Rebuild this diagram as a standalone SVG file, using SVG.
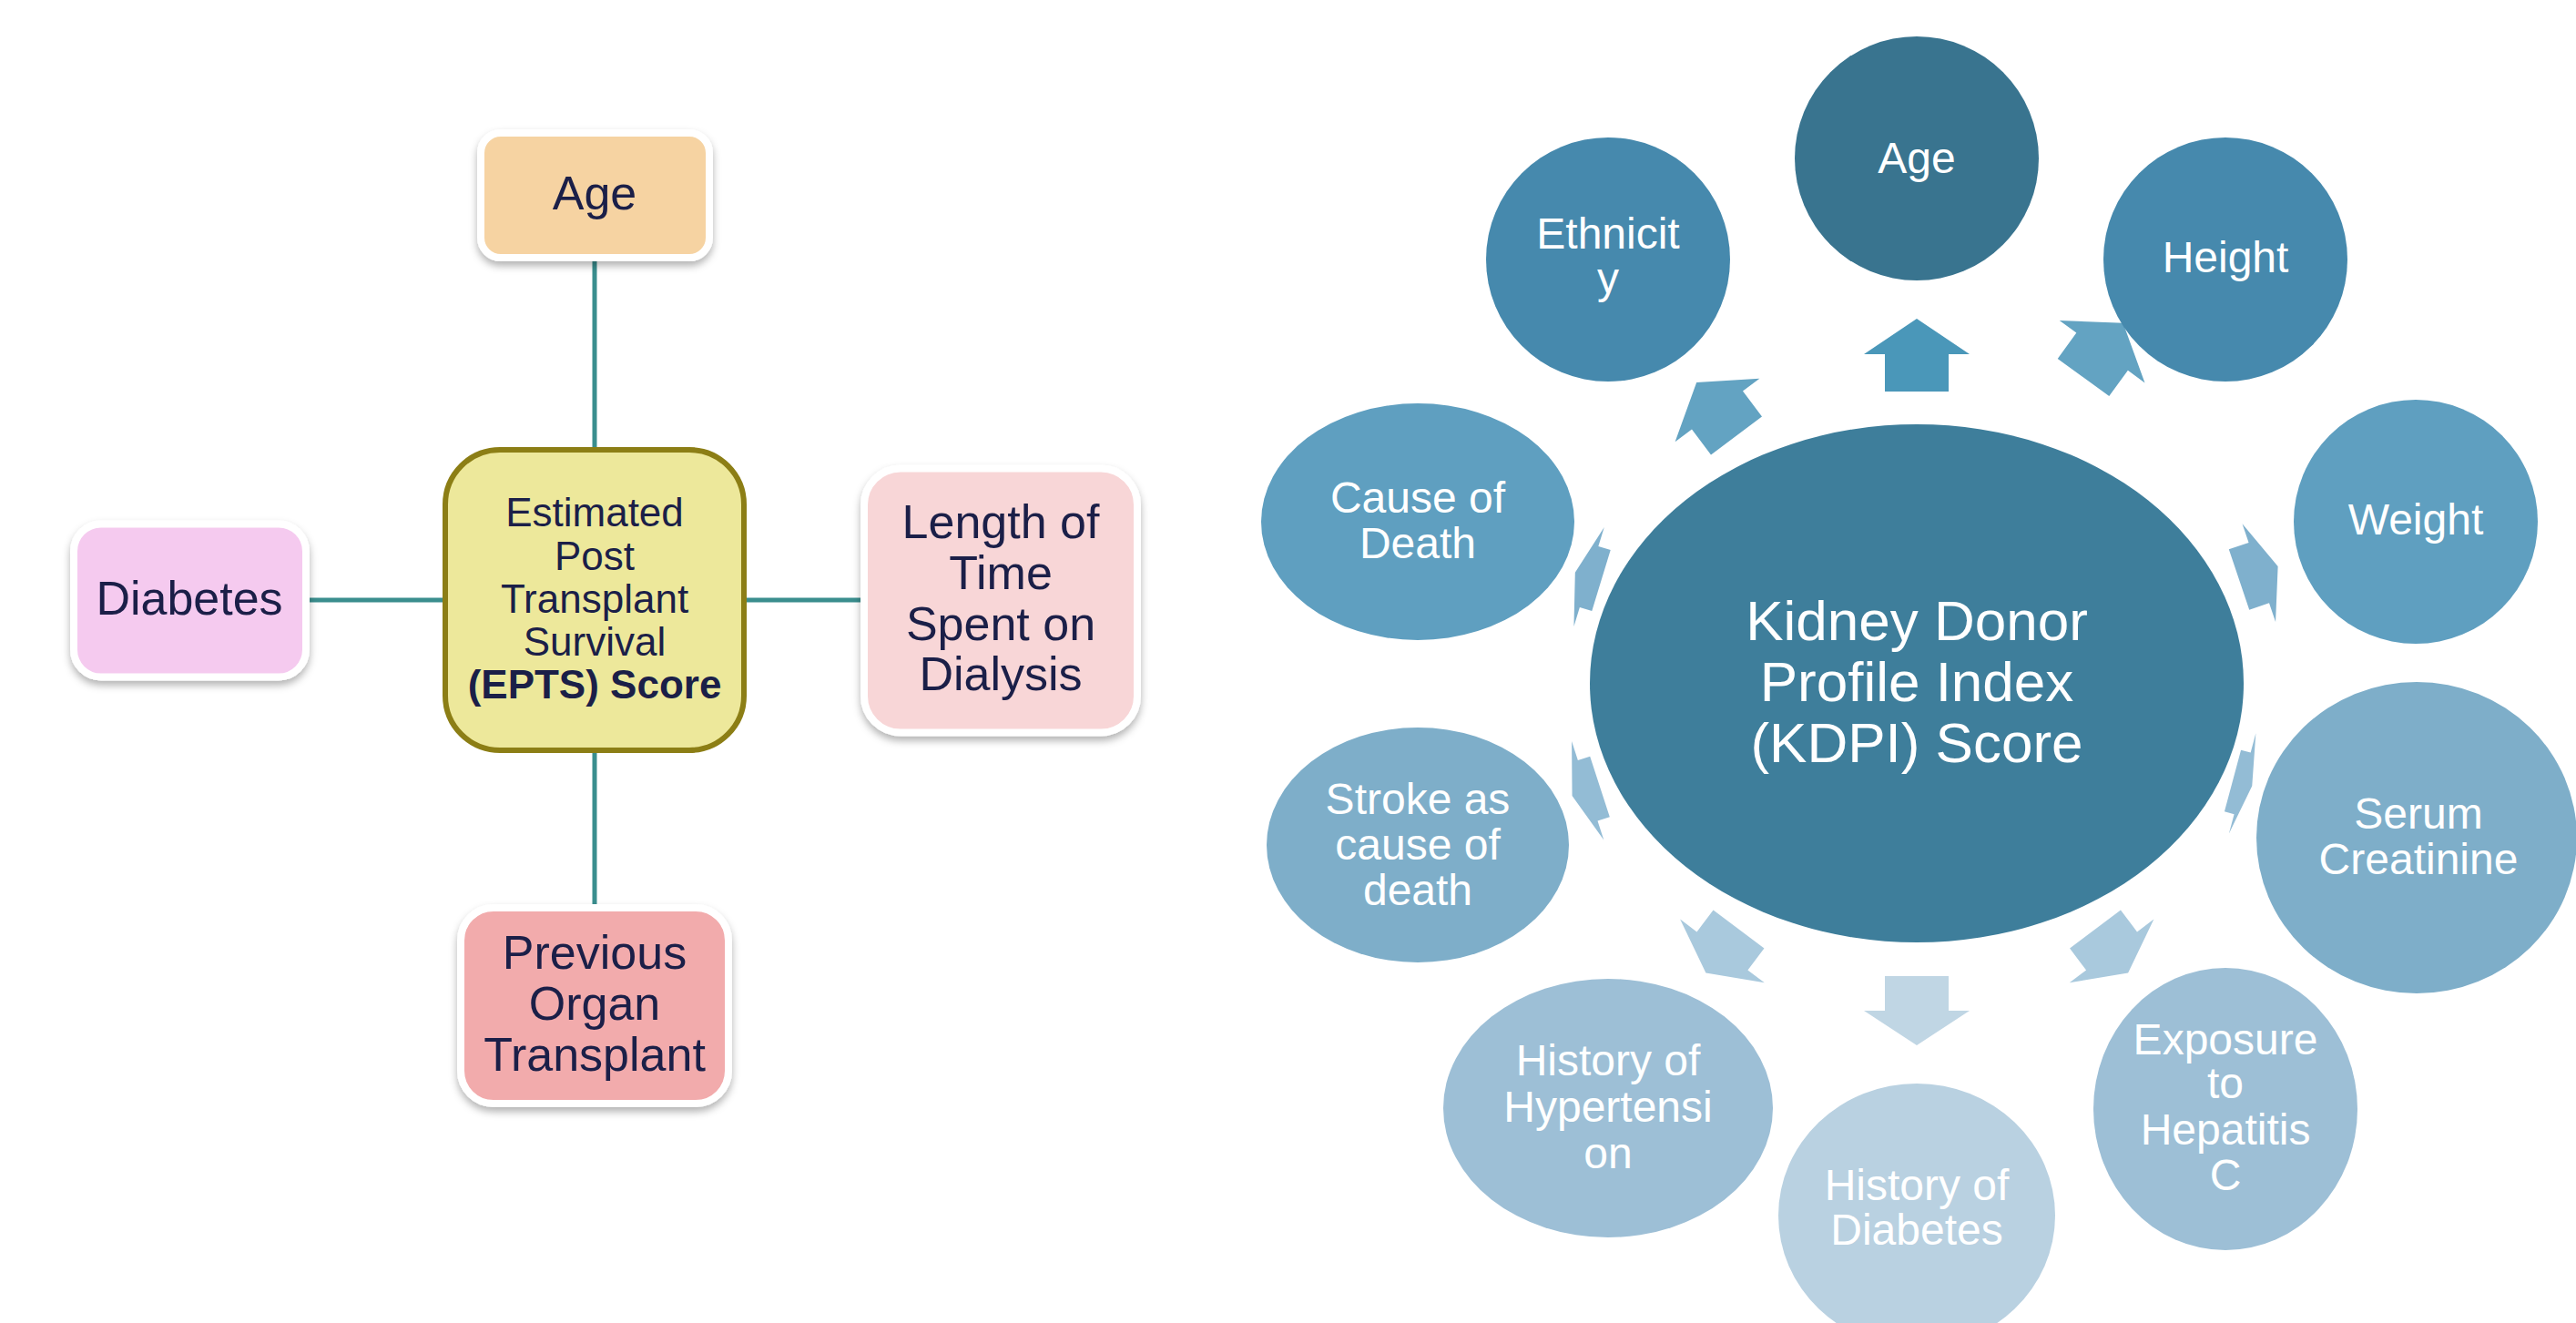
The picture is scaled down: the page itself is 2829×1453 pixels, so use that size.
<svg xmlns="http://www.w3.org/2000/svg" width="2829" height="1453" viewBox="0 0 2829 1453">
<defs>
<filter id="sh" x="-20%" y="-20%" width="140%" height="150%">
<feDropShadow dx="0" dy="5" stdDeviation="4" flood-color="#000" flood-opacity="0.3"/>
</filter>
<style>
.box{stroke:#fff;stroke-width:8;filter:url(#sh)}
.lt{font-family:"Liberation Sans",Arial,sans-serif;font-size:52px;fill:#1b1f48;text-anchor:middle}
.ct{font-family:"Liberation Sans",Arial,sans-serif;font-size:44px;fill:#1b1f48;text-anchor:middle}
.rt{font-family:"Liberation Sans",Arial,sans-serif;font-size:48px;fill:#fff;text-anchor:middle}
.kt{font-family:"Liberation Sans",Arial,sans-serif;font-size:62px;fill:#fff;text-anchor:middle}
.ln{stroke:#3a8e8e;stroke-width:5;fill:none}
</style>
</defs>
<rect width="2829" height="1453" fill="#fff"/>

<g id="connectors">
<line class="ln" x1="653" y1="287" x2="653" y2="492"/>
<line class="ln" x1="653" y1="826" x2="653" y2="994"/>
<line class="ln" x1="340" y1="659" x2="487" y2="659"/>
<line class="ln" x1="819" y1="659" x2="946" y2="659"/>
<polygon fill="#4a97b9" transform="translate(2105,430) rotate(-90)" points="0,-35 41,-35 41,-58 80,0 41,58 41,35 0,35"/>
<polygon fill="#c0d6e4" transform="translate(2105,1072) rotate(90)" points="0,-35 38,-35 38,-58 76,0 38,58 38,35 0,35"/>
<polygon fill="#63a3c2" transform="translate(2288,414.5) rotate(-53.9)" points="0,-35 35,-35 35,-58 74,0 35,58 35,35 0,35"/>
<polygon fill="#63a3c2" transform="translate(1907,478.5) rotate(-126.9)" points="0,-35 35,-35 35,-58 73,0 35,58 35,35 0,35"/>
<polygon fill="#7fb0cd" transform="translate(2459,636.5) rotate(-18.7)" points="0,-35 23,-35 23,-57 45,0 23,57 23,35 0,35"/>
<polygon fill="#7fb0cd" transform="translate(1758.5,637.5) rotate(-163)" points="0,-35 14,-35 14,-57 30,0 14,57 14,35 0,35"/>
<polygon fill="#93bcd5" transform="translate(2452,857.5) rotate(15)" points="0,-35 11,-35 11,-57 22,0 11,57 11,35 0,35"/>
<polygon fill="#93bcd5" transform="translate(1757,864) rotate(162)" points="0,-35 14,-35 14,-57 32,0 14,57 14,35 0,35"/>
<polygon fill="#a9c9dd" transform="translate(2301,1020.5) rotate(53)" points="0,-35 30,-35 30,-58 60,0 30,58 30,35 0,35"/>
<polygon fill="#a9c9dd" transform="translate(1909.5,1020.5) rotate(127)" points="0,-35 30,-35 30,-58 60,0 30,58 30,35 0,35"/>
</g>

<g id="epts">
<rect x="489" y="494" width="328" height="330" rx="60" fill="#ede89b" stroke="#8c7e15" stroke-width="6"/>
<text class="ct" x="653" y="578">Estimated</text>
<text class="ct" x="653" y="626">Post</text>
<text class="ct" x="653" y="673">Transplant</text>
<text class="ct" x="653" y="720">Survival</text>
<text class="ct" x="653" y="767" font-weight="bold" font-size="42">(EPTS) Score</text>
</g>
<g id="age-box">
<rect class="box" x="528" y="146" width="251" height="137" rx="22" fill="#f6d3a2"/>
<text class="lt" x="653" y="230">Age</text>
</g>
<g id="diabetes-box">
<rect class="box" x="81" y="575.5" width="255" height="168" rx="30" fill="#f5caef"/>
<text class="lt" x="208" y="675">Diabetes</text>
</g>
<g id="dialysis-box">
<rect class="box" x="949" y="514.5" width="300" height="290" rx="40" fill="#f8d6d7"/>
<text class="lt" x="1099" y="591">Length of</text>
<text class="lt" x="1099" y="647">Time</text>
<text class="lt" x="1099" y="703">Spent on</text>
<text class="lt" x="1099" y="758">Dialysis</text>
</g>
<g id="transplant-box">
<rect class="box" x="506" y="997" width="294" height="215" rx="36" fill="#f2abac"/>
<text class="lt" x="653" y="1064">Previous</text>
<text class="lt" x="653" y="1120">Organ</text>
<text class="lt" x="653" y="1176">Transplant</text>
</g>

<g id="kdpi">
<ellipse cx="2105" cy="750.5" rx="359" ry="284.5" fill="#3e7e9b"/>
<text class="kt" x="2105" y="703">Kidney Donor</text>
<text class="kt" x="2105" y="770">Profile Index</text>
<text class="kt" x="2105" y="837">(KDPI) Score</text>
</g>
<g id="k-age">
<circle cx="2105" cy="174" r="134" fill="#39748f"/>
<text class="rt" x="2105" y="190">Age</text>
</g>
<g id="k-ethnicity">
<circle cx="1766" cy="285" r="134" fill="#4689ad"/>
<text class="rt" x="1766" y="273">Ethnicit</text>
<text class="rt" x="1766" y="322">y</text>
</g>
<g id="k-height">
<circle cx="2444" cy="285" r="134" fill="#4689ad"/>
<text class="rt" x="2444" y="299">Height</text>
</g>
<g id="k-weight">
<circle cx="2653" cy="573" r="134" fill="#5f9fc0"/>
<text class="rt" x="2653" y="587">Weight</text>
</g>
<g id="k-cause">
<ellipse cx="1557" cy="573" rx="172" ry="130" fill="#5f9fc0"/>
<text class="rt" x="1557" y="563">Cause of</text>
<text class="rt" x="1557" y="613">Death</text>
</g>
<g id="k-serum">
<ellipse cx="2654" cy="920" rx="176" ry="171" fill="#7eaec9"/>
<text class="rt" x="2656" y="910">Serum</text>
<text class="rt" x="2656" y="960">Creatinine</text>
</g>
<g id="k-stroke">
<ellipse cx="1557" cy="928" rx="166" ry="129" fill="#7eaec9"/>
<text class="rt" x="1557" y="894">Stroke as</text>
<text class="rt" x="1557" y="944">cause of</text>
<text class="rt" x="1557" y="994">death</text>
</g>
<g id="k-hepatitis">
<ellipse cx="2444" cy="1218" rx="145" ry="155" fill="#9dbfd6"/>
<text class="rt" x="2444" y="1158">Exposure</text>
<text class="rt" x="2444" y="1206">to</text>
<text class="rt" x="2444" y="1257">Hepatitis</text>
<text class="rt" x="2444" y="1307">C</text>
</g>
<g id="k-hypertension">
<ellipse cx="1766" cy="1217" rx="181" ry="142" fill="#9dbfd6"/>
<text class="rt" x="1766" y="1181">History of</text>
<text class="rt" x="1766" y="1232">Hypertensi</text>
<text class="rt" x="1766" y="1283">on</text>
</g>
<g id="k-diabetes">
<ellipse cx="2105" cy="1335" rx="152" ry="145" fill="#b9d1e1"/>
<text class="rt" x="2105" y="1318">History of</text>
<text class="rt" x="2105" y="1367">Diabetes</text>
</g>
</svg>
